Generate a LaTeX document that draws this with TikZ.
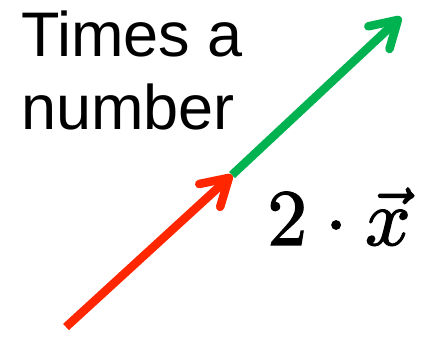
\documentclass[tikz,border=0pt]{standalone}
\usepackage{graphicx}
\usepackage{fontspec}
\setmainfont{Liberation Sans}
\usetikzlibrary{arrows.meta}
\definecolor{vred}{RGB}{255,38,0}
\definecolor{vgreen}{RGB}{0,178,80}
\tikzset{
  vec/.style={line width=8.5pt, -{Straight Barb[length=26pt,width=31pt,round]}},
  lbl/.style={anchor=base west, inner sep=0pt, font=\fontsize{63}{72}\selectfont}
}
\begin{document}
\begin{tikzpicture}[x=1pt,y=1pt]
\useasboundingbox (0,0) rectangle (429,337);
\coordinate (o) at (66,10);
\coordinate (m) at (232,162);
\coordinate (t) at (401,320);
\draw[vec, vgreen] (m) -- (t);
\draw[vec, vred] (o) -- (m);
\node[lbl] (l1) at (21,280) {Times a};
\node[lbl] (l2) at (21,207) {number};
\node[anchor=base west, inner sep=0pt] (f) at (267,92) {\scalebox{8}{\special{pdf:literal 2 Tr 0.16 w}$2\cdot\vec{x}$\special{pdf:literal 0 Tr}}};
\end{tikzpicture}
\end{document}
